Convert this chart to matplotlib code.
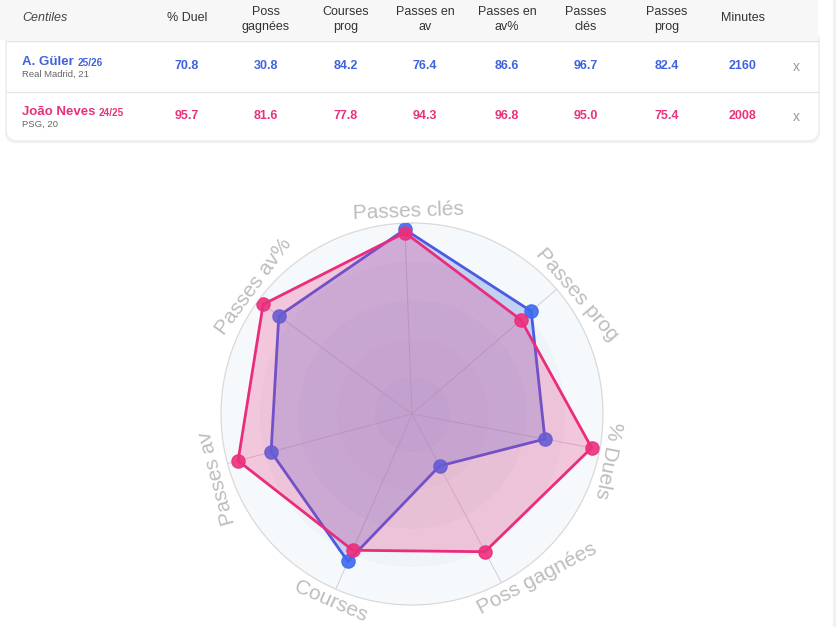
import numpy as np
import matplotlib.pyplot as plt
from matplotlib.patches import FancyBboxPatch, Rectangle

plt.rcParams['font.family'] = ['Liberation Sans', 'DejaVu Sans']

# table data
columns = ['% Duel', 'Poss\ngagnées', 'Courses\nprog', 'Passes en\nav',
           'Passes en\nav%', 'Passes\nclés', 'Passes\nprog', 'Minutes']
guler = [70.8, 30.8, 84.2, 76.4, 86.6, 96.7, 82.4]
neves = [95.7, 81.6, 77.8, 94.3, 96.8, 95.0, 75.4]
minutes = [2160, 2008]
names = ['A. Güler', 'João Neves']
seasons = ['25/26', '24/25']
clubs = ['Real Madrid, 21', 'PSG, 20']

# radar axes, clockwise from top, as index into the table columns
radar_labels = ['Passes clés', 'Passes prog', '% Duels', 'Poss gagnées',
                'Courses', 'Passes av', 'Passes av%']
radar_order = [5, 6, 0, 1, 2, 3, 4]

# label placement tweaks (degrees off the spoke, radius in axis units)
label_shift = [1.1, 5.0, 2.5, -9.3, -0.2, -3.0, 2.3]
label_r = [106.0, 106.5, 105.5, 108.5, 106.8, 107.5, 106.5]

BLUE = '#3f63de'
PINK = '#e8327c'

fig = plt.figure(figsize=(8.37, 6.27), dpi=100)
fig.patch.set_facecolor('white')

# background axes in pixel units for the table card
bg = fig.add_axes([0, 0, 1, 1])
bg.set_xlim(0, 837)
bg.set_ylim(627, 0)
bg.axis('off')

bg.add_patch(Rectangle((833, 0), 4, 627, color='#f1f1f4', lw=0))
# card shadow + card
bg.add_patch(FancyBboxPatch((5, 30), 815, 113, boxstyle='round,pad=0,rounding_size=11',
                            fc='#f0f0f0', ec='none'))
bg.add_patch(FancyBboxPatch((7, 30), 811, 110, boxstyle='round,pad=0,rounding_size=10',
                            fc='white', ec='none'))
bg.add_patch(Rectangle((0, 0), 818, 40, fc='#f7f7f7', ec='none'))
bg.plot([7, 818], [40.5, 40.5], color='#e2e2e2', lw=1)
bg.plot([7, 818], [91.5, 91.5], color='#e6e6e6', lw=1)

col_x = [187, 266, 346, 425, 507, 586, 667, 743]
bg.text(22, 18, 'Centiles', fontsize=9, style='italic', color='#444444', va='center')
for x, c in zip(col_x, columns):
    yh = 19.5 if '\n' in c else 18
    bg.text(x, yh, c, fontsize=9, color='#333333', ha='center', va='center',
            linespacing=1.35)

rows = [guler, neves]
for i, (vals, col) in enumerate(zip(rows, [BLUE, PINK])):
    yv = 66 + 50 * i
    nm = bg.text(22, yv - 1, names[i], fontsize=9.5, fontweight='bold', color=col,
                 va='baseline')
    bg.annotate(seasons[i], xy=(1, 0), xycoords=nm, xytext=(2.5, 0),
                textcoords='offset points', fontsize=7.2, fontweight='bold',
                color=col, va='bottom')
    bg.text(22, yv + 8, clubs[i], fontsize=6.8, color='#666666', va='center')
    for x, v in zip(col_x[:-1], vals):
        bg.text(x, yv, f'{v:.1f}', fontsize=9, fontweight='bold', color=col,
                ha='center', va='center')
    bg.text(col_x[-1], yv, str(minutes[i]), fontsize=9, fontweight='bold', color=col,
            ha='center', va='center')
    bg.text(796, yv + 1, 'x', fontsize=10, color='#9a9a9a', ha='center', va='center')

# radar
cx, cy, R = 412, 414, 191
ax = fig.add_axes([(cx - R) / 837, (627 - cy - R) / 627, 2 * R / 837, 2 * R / 627],
                  projection='polar')
ax.set_theta_zero_location('N')
ax.set_theta_direction(-1)
ax.set_ylim(0, 100)
ax.set_facecolor('none')
ax.grid(False)
ax.set_xticks([])
ax.set_yticks([])
ax.spines['polar'].set_color('#d9d9d9')
ax.spines['polar'].set_linewidth(0.9)

ring_cols = ['#dfe7ee', '#e4ecf1', '#e9f0f4', '#eef4f7', '#f6f9fc']
full = np.linspace(0, 2 * np.pi, 361)
for k, rc in enumerate(ring_cols):
    ax.fill_between(full, 20 * k, 20 * (k + 1), color=rc, lw=0, zorder=0)

n = len(radar_labels)
start = np.deg2rad(-2.2)
theta = start + np.arange(n) * 2 * np.pi / n
for t in theta:
    ax.plot([t, t], [0, 100], color='#cfcfd6', lw=0.7, zorder=1)

g_vals = [guler[j] for j in radar_order]
n_vals = [neves[j] for j in radar_order]
tc = np.append(theta, theta[0])

ax.fill(tc, g_vals + g_vals[:1], color='#4169e1', alpha=0.25, lw=0, zorder=2)
ax.plot(tc, g_vals + g_vals[:1], color='#4a5be2', lw=2.0, zorder=3)
ax.plot(theta, g_vals, 'o', color='#3d6af0', ms=9.5, alpha=0.9, zorder=3)

ax.fill(tc, n_vals + n_vals[:1], color='#e8327c', alpha=0.25, lw=0, zorder=4)
ax.plot(tc, n_vals + n_vals[:1], color='#ea2c7c', lw=2.0, zorder=5)
ax.plot(theta, n_vals, 'o', color='#ec2f7d', ms=9.5, alpha=0.9, zorder=5)

for t, lab, sh, lr in zip(theta, radar_labels, label_shift, label_r):
    deg = np.rad2deg(t)
    rot = 180 - deg if 120 < deg < 240 else -deg
    ax.text(t + np.deg2rad(sh), lr, lab, fontsize=15, color='#bdbdbd', ha='center',
            va='center', rotation=rot, rotation_mode='anchor', clip_on=False)

fig.savefig('out.png', dpi=100)
